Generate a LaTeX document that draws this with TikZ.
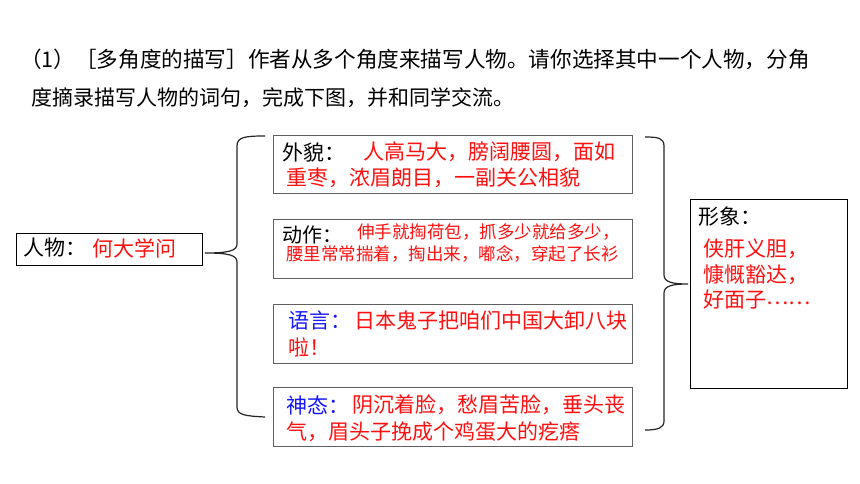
\documentclass[tikz,border=0pt]{standalone}
\usepackage{fontspec}
\setmainfont{Noto Sans CJK SC}
\newfontfamily\cjk{Noto Sans CJK SC}
\definecolor{myred}{HTML}{FF1010}
\definecolor{myblue}{HTML}{1515FF}
\definecolor{boxgray}{HTML}{606060}
\begin{document}
\begin{tikzpicture}[x=1pt,y=-1pt,
  box/.style={draw=boxgray,line width=1.4pt,anchor=north west,inner sep=0pt,fill=none},
  thinbox/.style={draw=black,line width=1pt,anchor=north west,inner sep=0pt},
  txt/.style={anchor=west,inner sep=0pt,font=\cjk\fontsize{21}{25}\selectfont},
  small/.style={anchor=west,inner sep=0pt,font=\cjk\fontsize{17.5}{20}\selectfont},
  brace/.style={draw=black!85,line width=1.2pt}]
\useasboundingbox[fill=white] (0,0) rectangle (860,484);

% header
\node[anchor=west,inner sep=0pt,font=\cjk\fontsize{21.6}{25}\selectfont] (h1) at (20,59) {（1）［多角度的描写］作者从多个角度来描写人物。请你选择其中一个人物，分角};
\node[txt] (h2) at (31,98) {度摘录描写人物的词句，完成下图，并和同学交流。};

% person box
\node[thinbox,minimum width=186,minimum height=32] (person) at (16,233) {};
\node[txt] (personlbl) at (23,248) {人物：};
\node[txt,text=myred] (personval) at (92,248) {何大学问};

% four boxes
\node[box,minimum width=359,minimum height=58] (wm) at (273,135) {};
\node[box,minimum width=359,minimum height=59] (dz) at (273,219) {};
\node[box,minimum width=359,minimum height=59] (yy) at (273,304) {};
\node[box,minimum width=359,minimum height=59] (st) at (273,387) {};

\node[txt] (wml) at (282,152) {外貌：};
\node[txt,text=myred] (wm1) at (363,152) {人高马大，膀阔腰圆，面如};
\node[txt,text=myred] (wm2) at (286,178) {重枣，浓眉朗目，一副关公相貌};

\node[anchor=west,inner sep=0pt,font=\cjk\fontsize{20}{24}\selectfont] (dzl) at (282,235) {动作：};
\node[small,text=myred] (dz1) at (357,232) {伸手就掏荷包，抓多少就给多少，};
\node[small,text=myred] (dz2) at (286,254) {腰里常常揣着，掏出来，嘟念，穿起了长衫};

\node[txt,text=myblue] (yyl) at (288,320) {语言：};
\node[txt,text=myred] (yy1) at (354,320) {日本鬼子把咱们中国大卸八块};
\node[txt,text=myred] (yy2) at (288,347) {啦！};

\node[txt,text=myblue] (stl) at (286,405) {神态：};
\node[txt,text=myred] (st1) at (352,405) {阴沉着脸，愁眉苦脸，垂头丧};
\node[txt,text=myred] (st2) at (286,432) {气，眉头子挽成个鸡蛋大的疙瘩};

% image box
\node[thinbox,minimum width=157,minimum height=189] (xx) at (690,199) {};
\node[txt] (xxl) at (698,217) {形象：};
\node[txt,text=myred] (xx1) at (703,249) {侠肝义胆，};
\node[txt,text=myred] (xx2) at (703,275) {慷慨豁达，};
\node[txt,text=myred] (xx3) at (703,300) {好面子\raisebox{3pt}{……}};

% left brace
\coordinate (lb) at (205,253);
\draw[brace] (265,136) .. controls (245,136) and (237,137) .. (237,146)
  -- (237,244) .. controls (237,251) and (228,253) .. (lb)
  .. controls (228,253) and (237,255) .. (237,262)
  -- (237,407) .. controls (237,415) and (245,416) .. (265,417);

% right brace
\coordinate (rb) at (688,284);
\draw[brace] (645,137) .. controls (658,137) and (664,138) .. (664,146)
  -- (664,275) .. controls (664,282) and (672,284) .. (rb)
  .. controls (672,284) and (664,286) .. (664,293)
  -- (664,421) .. controls (664,428) and (658,430) .. (645,430);
\end{tikzpicture}
\end{document}
